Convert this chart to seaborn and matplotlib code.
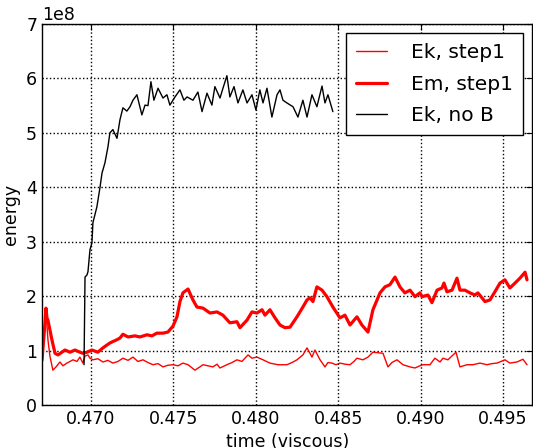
import pandas as pd
import matplotlib
matplotlib.use("Agg")
import matplotlib.pyplot as plt
import seaborn as sns

# Ek, step1 (thin red)
t_ek = [0.46703, 0.46727, 0.46739, 0.46751, 0.46769, 0.46788, 0.46812, 0.46830, 0.46854, 0.46873,
        0.46891, 0.46915, 0.46933, 0.46951, 0.46964, 0.46982, 0.46994, 0.47012, 0.47042, 0.47073,
        0.47103, 0.47133, 0.47164, 0.47194, 0.47225, 0.47255, 0.47285, 0.47316, 0.47346, 0.47376,
        0.47407, 0.47437, 0.47467, 0.47498, 0.47528, 0.47558, 0.47589, 0.47631, 0.47661, 0.47680,
        0.47710, 0.47740, 0.47765, 0.47783, 0.47825, 0.47856, 0.47886, 0.47916, 0.47953, 0.47977,
        0.48007, 0.48044, 0.48086, 0.48135, 0.48189, 0.48220, 0.48250, 0.48286, 0.48311, 0.48329,
        0.48341, 0.48359, 0.48390, 0.48420, 0.48438, 0.48462, 0.48487, 0.48511, 0.48541, 0.48572,
        0.48596, 0.48614, 0.48650, 0.48681, 0.48711, 0.48742, 0.48772, 0.48790, 0.48802, 0.48826,
        0.48857, 0.48893, 0.48936, 0.48966, 0.48996, 0.49015, 0.49057, 0.49087, 0.49118, 0.49136,
        0.49166, 0.49197, 0.49215, 0.49239, 0.49282, 0.49318, 0.49360, 0.49403, 0.49433, 0.49464,
        0.49512, 0.49542, 0.49585, 0.49621, 0.49646]
ek_step1 = [0.82, 1.75, 1.20, 0.90, 0.64, 0.70, 0.79, 0.72, 0.77, 0.80,
            0.83, 0.80, 0.88, 0.77, 0.90, 0.92, 0.86, 0.83, 0.85, 0.79,
            0.82, 0.77, 0.80, 0.86, 0.82, 0.88, 0.80, 0.83, 0.78, 0.74,
            0.76, 0.70, 0.73, 0.74, 0.72, 0.77, 0.74, 0.64, 0.70, 0.74,
            0.72, 0.70, 0.75, 0.68, 0.74, 0.78, 0.83, 0.80, 0.92, 0.86,
            0.88, 0.83, 0.77, 0.74, 0.74, 0.78, 0.83, 0.92, 1.05, 0.95,
            0.88, 1.01, 0.83, 0.70, 0.78, 0.77, 0.74, 0.77, 0.75, 0.74,
            0.80, 0.86, 0.83, 0.88, 0.97, 0.96, 0.95, 0.80, 0.70, 0.78,
            0.83, 0.74, 0.70, 0.68, 0.72, 0.74, 0.74, 0.86, 0.79, 0.86,
            0.83, 0.92, 0.97, 0.70, 0.74, 0.74, 0.77, 0.74, 0.76, 0.77,
            0.83, 0.77, 0.79, 0.84, 0.74]

# Em, step1 (thick red)
t_em = [0.46703, 0.46721, 0.46727, 0.46733, 0.46739, 0.46751, 0.46763, 0.46782, 0.46800, 0.46824,
        0.46842, 0.46873, 0.46903, 0.46933, 0.46951, 0.46976, 0.47006, 0.47042, 0.47073, 0.47115,
        0.47158, 0.47176, 0.47194, 0.47225, 0.47267, 0.47297, 0.47340, 0.47370, 0.47400, 0.47437,
        0.47467, 0.47498, 0.47522, 0.47540, 0.47558, 0.47589, 0.47601, 0.47619, 0.47643, 0.47680,
        0.47722, 0.47765, 0.47801, 0.47843, 0.47886, 0.47904, 0.47947, 0.47977, 0.48007, 0.48038,
        0.48056, 0.48086, 0.48117, 0.48147, 0.48177, 0.48208, 0.48250, 0.48286, 0.48311, 0.48329,
        0.48347, 0.48371, 0.48402, 0.48432, 0.48468, 0.48511, 0.48541, 0.48572, 0.48614, 0.48644,
        0.48681, 0.48711, 0.48754, 0.48784, 0.48814, 0.48845, 0.48875, 0.48905, 0.48936, 0.48966,
        0.48996, 0.49009, 0.49045, 0.49069, 0.49100, 0.49130, 0.49142, 0.49160, 0.49191, 0.49221,
        0.49239, 0.49269, 0.49300, 0.49330, 0.49348, 0.49391, 0.49421, 0.49451, 0.49482, 0.49512,
        0.49542, 0.49573, 0.49603, 0.49634, 0.49646]
em_step1 = [0.82, 1.50, 1.78, 1.60, 1.56, 1.38, 1.20, 0.95, 0.92, 0.97,
            1.01, 0.97, 1.01, 0.97, 0.95, 0.97, 1.01, 0.97, 1.05, 1.14,
            1.20, 1.23, 1.30, 1.25, 1.27, 1.25, 1.29, 1.27, 1.32, 1.32,
            1.34, 1.45, 1.62, 1.90, 2.06, 2.13, 2.05, 1.93, 1.80, 1.78,
            1.69, 1.71, 1.65, 1.51, 1.53, 1.42, 1.56, 1.71, 1.69, 1.75,
            1.65, 1.75, 1.60, 1.47, 1.42, 1.43, 1.62, 1.80, 1.93, 1.97,
            1.90, 2.17, 2.11, 1.99, 1.80, 1.60, 1.65, 1.47, 1.62, 1.47,
            1.34, 1.75, 2.06, 2.17, 2.21, 2.35, 2.17, 2.06, 2.11, 1.99,
            2.06, 1.99, 2.02, 1.88, 2.11, 2.15, 2.24, 2.08, 2.11, 2.33,
            2.11, 2.11, 2.06, 2.02, 2.06, 1.90, 1.93, 2.08, 2.24, 2.30,
            2.15, 2.24, 2.33, 2.44, 2.30]

# Ek, no B (black)
t_nob = [0.46958, 0.46964, 0.46976, 0.46982, 0.46994, 0.47006, 0.47012, 0.47036, 0.47055, 0.47067,
         0.47085, 0.47103, 0.47115, 0.47133, 0.47158, 0.47176, 0.47194, 0.47218, 0.47237, 0.47255,
         0.47279, 0.47309, 0.47328, 0.47346, 0.47364, 0.47382, 0.47407, 0.47437, 0.47461, 0.47479,
         0.47510, 0.47540, 0.47564, 0.47583, 0.47619, 0.47649, 0.47674, 0.47704, 0.47734, 0.47752,
         0.47783, 0.47801, 0.47825, 0.47843, 0.47868, 0.47892, 0.47922, 0.47947, 0.47977, 0.48001,
         0.48025, 0.48044, 0.48068, 0.48098, 0.48129, 0.48147, 0.48165, 0.48189, 0.48226, 0.48256,
         0.48286, 0.48311, 0.48341, 0.48371, 0.48402, 0.48420, 0.48438, 0.48468]
ek_nob = [0.74, 2.35, 2.39, 2.45, 2.85, 2.98, 3.35, 3.64, 4.00, 4.26,
          4.45, 4.74, 5.00, 5.06, 4.90, 5.24, 5.46, 5.40, 5.48, 5.60,
          5.70, 5.33, 5.51, 5.50, 5.94, 5.60, 5.82, 5.64, 5.70, 5.51,
          5.66, 5.79, 5.60, 5.66, 5.60, 5.75, 5.39, 5.73, 5.51, 5.85,
          5.64, 5.82, 6.05, 5.66, 5.85, 5.55, 5.79, 5.55, 5.70, 5.42,
          5.79, 5.55, 5.82, 5.29, 5.70, 5.79, 5.60, 5.55, 5.48, 5.29,
          5.60, 5.29, 5.70, 5.48, 5.86, 5.55, 5.70, 5.39]

scale = 1e8

sns.set_style("white")
plt.rcParams.update({
    "font.size": 12.5,
    "text.color": "black",
    "axes.labelcolor": "black",
    "xtick.direction": "in",
    "ytick.direction": "in",
    "xtick.top": True,
    "ytick.right": True,
    "xtick.major.size": 4,
    "ytick.major.size": 4,
    "xtick.color": "black",
    "ytick.color": "black",
    "axes.edgecolor": "black",
    "axes.linewidth": 1.0,
})

df_ek = pd.DataFrame({"time": t_ek, "energy": [v * scale for v in ek_step1]})
df_em = pd.DataFrame({"time": t_em, "energy": [v * scale for v in em_step1]})
df_nob = pd.DataFrame({"time": t_nob, "energy": [v * scale for v in ek_nob]})

fig = plt.figure(figsize=(5.33, 4.48), dpi=100)
ax = fig.add_axes([0.0788, 0.096, 0.9202, 0.8504])

sns.lineplot(data=df_ek, x="time", y="energy", color="red", linewidth=1.0,
             label="Ek, step1", ax=ax, estimator=None, sort=False)
sns.lineplot(data=df_em, x="time", y="energy", color="red", linewidth=2.3,
             label="Em, step1", ax=ax, estimator=None, sort=False)
sns.lineplot(data=df_nob, x="time", y="energy", color="black", linewidth=1.0,
             label="Ek, no B", ax=ax, estimator=None, sort=False)

ax.set_xlim(0.46703, 0.49679)
ax.set_ylim(0, 7e8)
ax.set_xticks([0.470, 0.475, 0.480, 0.485, 0.490, 0.495])
ax.xaxis.set_major_formatter(matplotlib.ticker.FormatStrFormatter("%.3f"))
ax.grid(True, linestyle=":", color="black", linewidth=1.0)
ax.set_xlabel("time (viscous)")
ax.set_ylabel("energy")
ax.yaxis.get_offset_text().set_fontsize(12.5)

leg = ax.legend(loc="upper right", frameon=True, fancybox=False, framealpha=1,
                edgecolor="black", fontsize=14.5, handlelength=1.55, handletextpad=1.2,
                labelspacing=0.62, borderpad=0.5, borderaxespad=0.45)
leg.get_frame().set_linewidth(1.0)

fig.savefig("out.png", dpi=100)
